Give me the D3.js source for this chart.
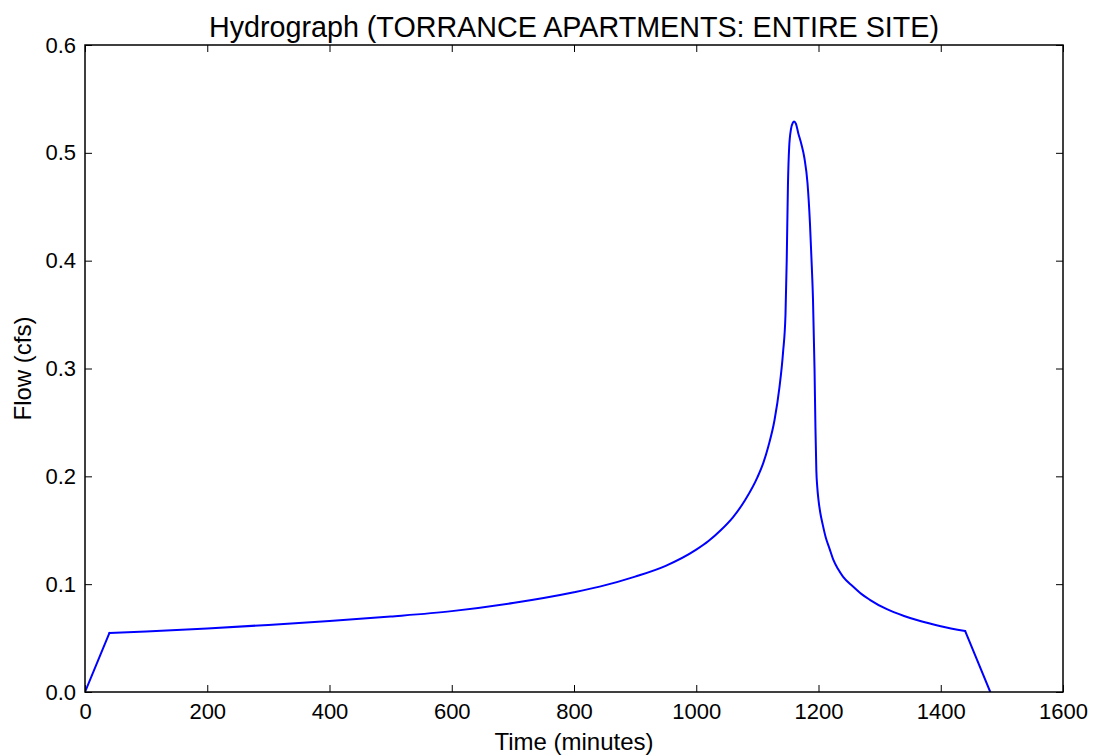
<!DOCTYPE html>
<html>
<head>
<meta charset="utf-8">
<script src="https://cdnjs.cloudflare.com/ajax/libs/d3/7.8.5/d3.min.js"></script>
<style>
  body { margin: 0; background: #fff; }
  text { font-family: "Liberation Sans", Arial, sans-serif; fill: #000; }
</style>
</head>
<body>
<svg id="chart" width="1093" height="756"></svg>
<script>
const timeMin = [0, 40, 100, 200, 300, 400, 500, 600, 700, 800, 842, 900, 950, 1000,
    1020, 1040, 1060, 1080, 1100, 1110, 1118, 1128, 1136, 1142, 1146, 1148, 1150,
    1152, 1155, 1158, 1160, 1163, 1167, 1172, 1177, 1182, 1186, 1189, 1191, 1193.5,
    1195, 1196.5, 1198, 1200, 1203, 1207, 1212, 1218, 1224, 1232, 1240, 1256, 1270,
    1284, 1311, 1340, 1365, 1400, 1440, 1481];
const flowCfs = [0, 0.0548, 0.0562, 0.0590, 0.0622, 0.0658, 0.0700, 0.0750, 0.0825,
    0.0925, 0.0977, 0.107, 0.117, 0.132, 0.140, 0.150, 0.162, 0.178, 0.199, 0.213,
    0.228, 0.252, 0.282, 0.315, 0.350, 0.400, 0.470, 0.505, 0.522, 0.528, 0.529,
    0.527, 0.518, 0.508, 0.495, 0.472, 0.435, 0.395, 0.364, 0.300, 0.245, 0.205,
    0.190, 0.178, 0.166, 0.155, 0.143, 0.133, 0.123, 0.114, 0.107, 0.098, 0.091,
    0.0855, 0.077, 0.0705, 0.066, 0.061, 0.0565, 0];

const xTicks = [0, 200, 400, 600, 800, 1000, 1200, 1400, 1600];
const yTicks = [0.0, 0.1, 0.2, 0.3, 0.4, 0.5, 0.6];

const titleText = "Hydrograph (TORRANCE APARTMENTS: ENTIRE SITE)";
const xLabel = "Time (minutes)";
const yLabel = "Flow (cfs)";

let margin = {top: 45, right: 30, bottom: 64, left: 85},
    width = 1093 - margin.left - margin.right,
    height = 756 - margin.top - margin.bottom;

let svg = d3.select("#chart");
let g = svg.append("g")
    .attr("transform", "translate(" + margin.left + "," + margin.top + ")");

let x = d3.scaleLinear().domain([0, 1600]).range([0, width]);
let y = d3.scaleLinear().domain([0, 0.6]).range([height, 0]);

let pts = timeMin.map((t, i) => [t, flowCfs[i]]);
let n = pts.length;

// clip so the line stops at the frame
g.append("clipPath").attr("id", "clip")
  .append("rect").attr("width", width).attr("height", height);

let straight = d3.line().x(d => x(d[0])).y(d => y(d[1]));
let smooth = d3.line().x(d => x(d[0])).y(d => y(d[1])).curve(d3.curveMonotoneX);

// rising and falling limbs straight, the body of the hydrograph smoothed
let pieces = [
    {d: pts.slice(0, 2), fn: straight},
    {d: pts.slice(1, n - 1), fn: smooth},
    {d: pts.slice(n - 2), fn: straight}
];

g.selectAll("path.flow")
    .data(pieces)
    .enter().append("path")
    .attr("class", "flow")
    .attr("clip-path", "url(#clip)")
    .attr("fill", "none")
    .attr("stroke", "#0000ff")
    .attr("stroke-width", 2)
    .attr("stroke-linejoin", "round")
    .attr("stroke-linecap", "round")
    .attr("d", p => p.fn(p.d));

// ticks pointing inward on all four sides
let tickLen = 7;
let fmtY = d3.format(".1f");

let axBottom = d3.axisBottom(x).tickValues(xTicks).tickSize(-tickLen).tickPadding(11).tickFormat(d3.format("d"));
let axTop = d3.axisTop(x).tickValues(xTicks).tickSize(-tickLen).tickFormat("");
let axLeft = d3.axisLeft(y).tickValues(yTicks).tickSize(-tickLen).tickPadding(9).tickFormat(fmtY);
let axRight = d3.axisRight(y).tickValues(yTicks).tickSize(-tickLen).tickFormat("");

function styleAxis(sel) {
    sel.select(".domain").remove();
    sel.selectAll(".tick line").attr("stroke", "#000").attr("stroke-width", 1);
    sel.selectAll(".tick text")
        .style("font-family", "'Liberation Sans', Arial, sans-serif")
        .style("font-size", "22px")
        .attr("fill", "#000");
}

g.append("g").attr("transform", "translate(0," + height + ")").call(axBottom).call(styleAxis);
g.append("g").call(axTop).call(styleAxis);
g.append("g").call(axLeft).call(styleAxis);
g.append("g").attr("transform", "translate(" + width + ",0)").call(axRight).call(styleAxis);

// frame
g.append("rect")
    .attr("width", width)
    .attr("height", height)
    .attr("fill", "none")
    .attr("stroke", "#000")
    .attr("stroke-width", 1.5);

// title and labels
svg.append("text")
    .attr("x", margin.left + width / 2)
    .attr("y", 37)
    .attr("text-anchor", "middle")
    .style("font-size", "28.7px")
    .text(titleText);

svg.append("text")
    .attr("x", margin.left + width / 2)
    .attr("y", 750)
    .attr("text-anchor", "middle")
    .style("font-size", "24px")
    .text(xLabel);

svg.append("text")
    .attr("transform", "translate(31," + (margin.top + height / 2) + ") rotate(-90)")
    .attr("text-anchor", "middle")
    .style("font-size", "24px")
    .text(yLabel);
</script>
</body>
</html>
